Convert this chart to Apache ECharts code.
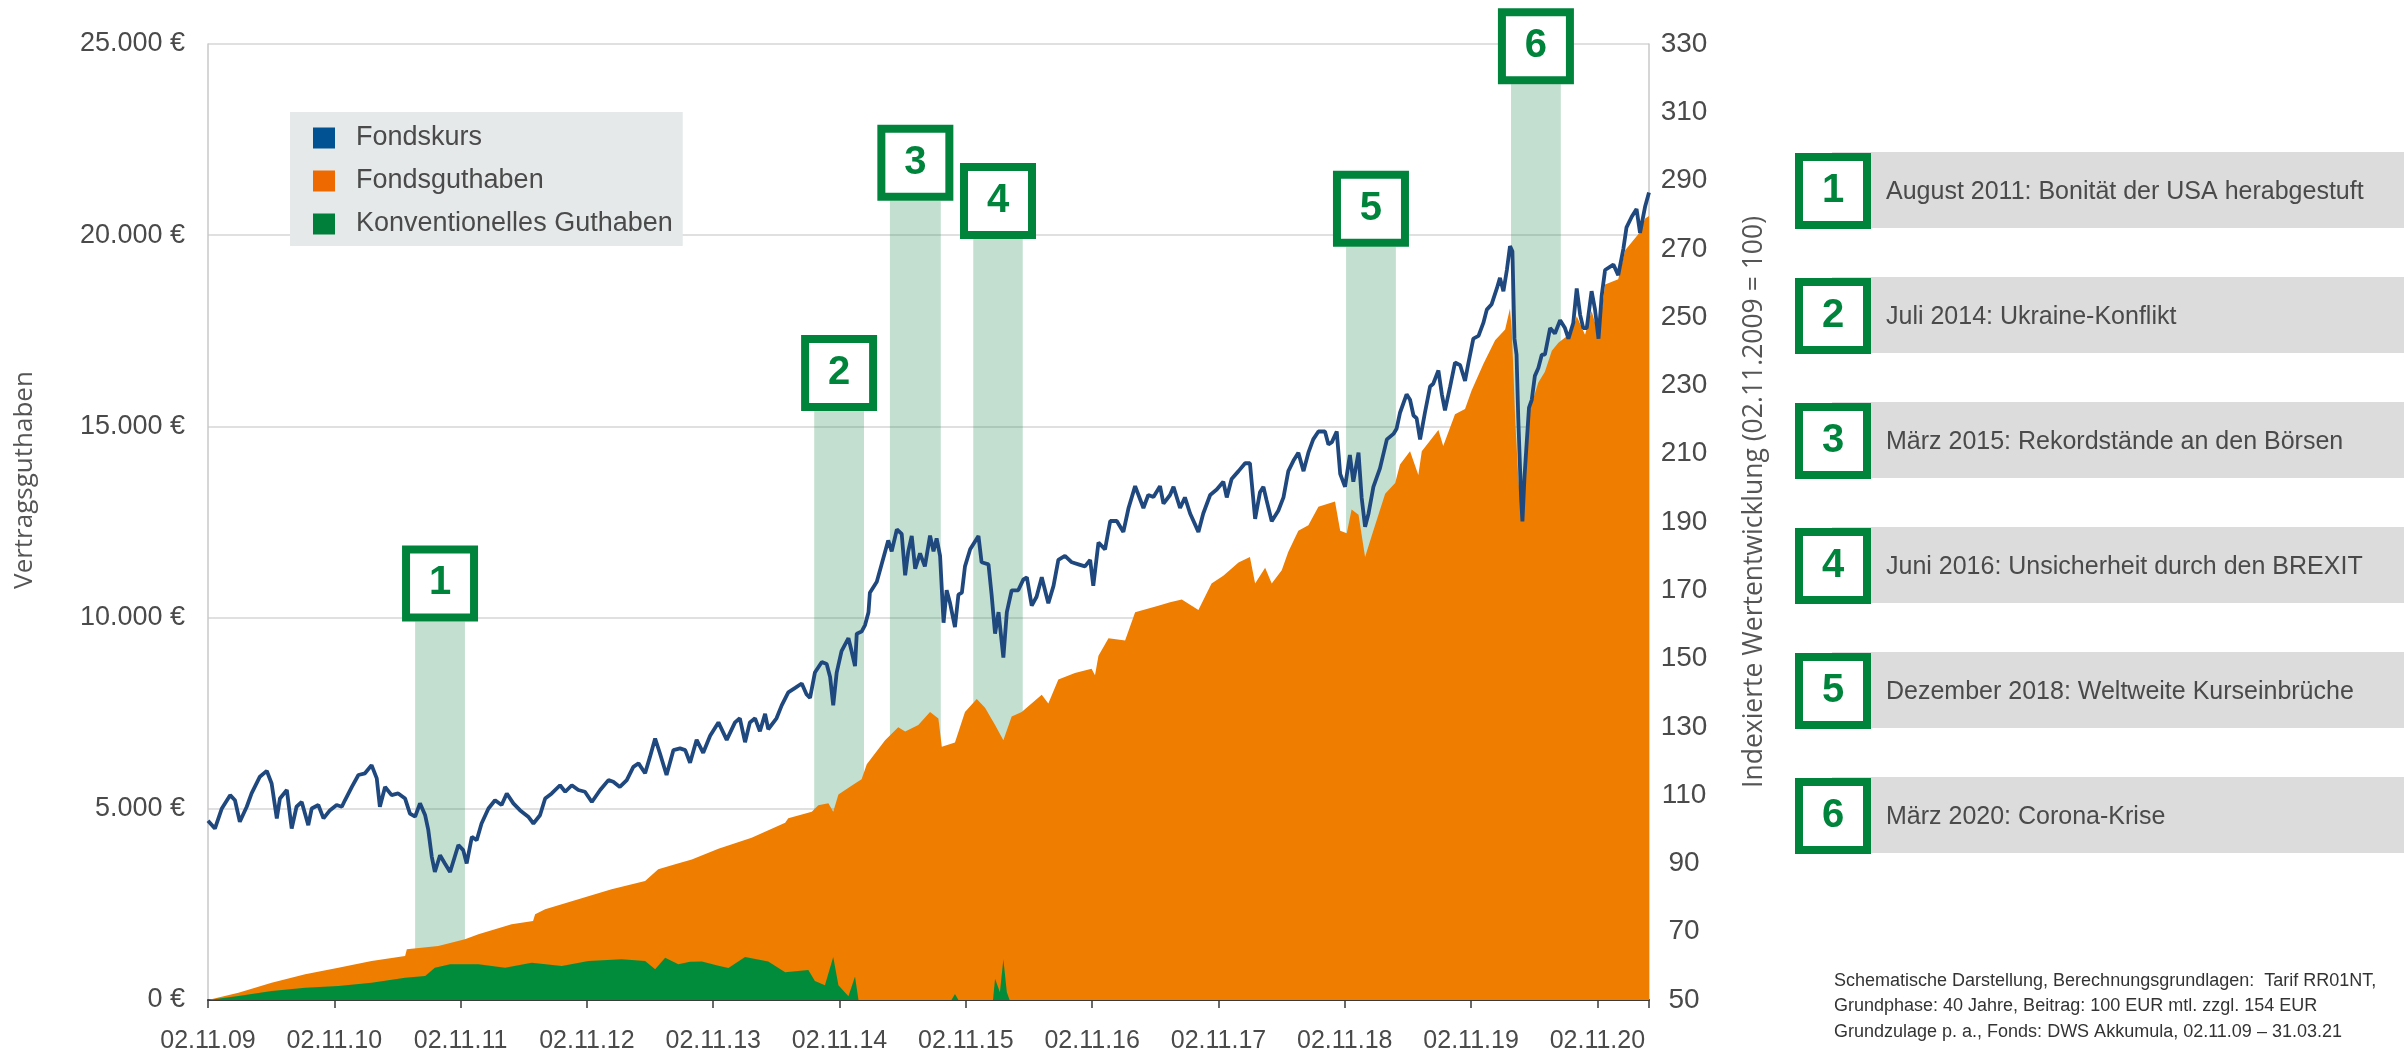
<!DOCTYPE html>
<html><head><meta charset="utf-8">
<script src="https://cdn.jsdelivr.net/npm/echarts@6/dist/echarts.min.js"></script>
<style>html,body{margin:0;padding:0;background:#fff}#c{width:2404px;height:1061px}</style>
</head><body><div id="c"></div>
<script>
// ---------- DATA (x = Tage seit 02.11.2009) ----------
const xTickLabels = ['02.11.09','02.11.10','02.11.11','02.11.12','02.11.13','02.11.14','02.11.15','02.11.16','02.11.17','02.11.18','02.11.19','02.11.20'];
const leftTickStep = 5000;
const rightTickStep = 20;

const kursTage = [0,20,40,64,78,92,112,126,150,170,184,199,208,228,242,256,271,290,300,319,334,353,372,387,396,416,435,454,473,488,497,512,531,550,570,584,599,613,628,637,647,656,671,685,700,724,738,748,763,777,791,811,830,849,864,883,902,926,941,960,975,994,1018,1033,1052,1071,1090,1110,1134,1158,1172,1191,1211,1230,1245,1264,1278,1293,1307,1326,1346,1365,1380,1394,1413,1432,1452,1476,1500,1524,1538,1553,1567,1582,1596,1611,1620,1644,1659,1678,1698,1717,1731,1741,1755,1775,1789,1799,1808,1818,1832,1852,1861,1871,1876,1890,1900,1910,1914,1934,1948,1967,1977,1992,2006,2016,2025,2035,2045,2059,2073,2088,2098,2107,2117,2127,2136,2146,2160,2170,2180,2189,2204,2228,2237,2257,2266,2276,2286,2300,2310,2324,2343,2358,2368,2382,2396,2411,2430,2445,2459,2478,2498,2517,2536,2551,2560,2575,2594,2609,2628,2647,2662,2681,2705,2719,2734,2753,2763,2782,2792,2811,2825,2840,2864,2878,2898,2917,2936,2946,2960,2980,2999,3013,3028,3042,3052,3061,3076,3095,3110,3124,3139,3153,3168,3182,3196,3211,3230,3240,3250,3264,3274,3288,3302,3312,3327,3336,3346,3356,3370,3389,3409,3428,3437,3447,3466,3476,3486,3495,3505,3519,3534,3543,3558,3568,3577,3592,3606,3621,3635,3645,3659,3674,3688,3698,3712,3727,3736,3746,3756,3765,3772,3778,3784,3789,3797,3801,3807,3813,3820,3828,3837,3847,3857,3866,3881,3895,3910,3924,3934,3948,3958,3968,3977,3987,4001,4011,4021,4030,4040,4064,4078,4093,4102,4117,4131,4141,4156,4167];
const kursIndex = [102.5,100.2,106.1,110.0,108.5,102.2,106.6,110.5,115.4,117.1,113.4,103.2,109.0,111.5,100.2,106.6,108.0,101.2,106.1,107.1,103.2,105.6,107.1,106.6,108.5,112.4,115.9,116.4,118.8,114.9,106.6,112.4,110.0,110.5,109.0,104.6,103.7,107.6,104.1,99.8,92.0,87.5,92.4,90.0,87.5,95.4,93.9,90.0,97.8,96.8,101.7,106.1,108.5,107.1,110.5,107.6,105.6,103.7,101.7,104.1,109.0,110.5,112.9,111.0,112.9,111.5,111.0,108.0,111.5,114.4,113.9,112.4,114.4,118.3,119.3,116.4,121.2,126.6,122.2,115.9,123.2,123.7,123.2,119.5,126.2,122.4,127.4,131.3,126.2,131.3,132.5,125.5,131.3,132.5,128.7,133.8,129.3,132.5,136.3,140.1,141.4,142.7,139.5,138.5,145.9,149.0,148.4,144.6,136.3,145.9,152.2,156.0,152.2,147.8,157.3,157.9,159.8,163.6,169.3,172.5,177.6,184.6,181.4,187.8,186.5,174.4,181.4,185.9,176.3,180.8,177.0,186.0,181.4,185.2,180.1,160.5,170.0,166.2,159.2,168.7,169.3,177.0,182.0,185.9,178.2,177.6,168.7,157.3,163.6,150.3,163.6,170.0,170.0,173.2,173.8,165.5,168.1,173.8,166.2,171.3,178.9,180.1,178.2,177.6,177.0,178.9,171.3,184.0,182.0,190.3,190.3,187.1,194.1,200.5,194.1,197.9,197.3,200.5,195.4,197.9,200.3,194.1,197.2,192.5,187.1,192.5,197.9,199.5,201.8,197.2,202.6,204.9,207.2,207.2,190.9,198.7,200.3,196.4,190.2,193.3,197.2,204.9,208.0,210.3,204.9,210.3,214.2,216.5,216.5,212.7,213.4,216.5,204.1,200.3,209.6,201.8,210.3,197.2,188.6,192.5,200.3,205.7,214.2,215.8,217.3,222.0,227.4,225.8,221.2,220.4,214.2,222.0,229.7,230.5,234.4,227.4,222.7,229.7,236.7,235.9,231.3,236.7,243.7,244.5,248.3,252.2,253.8,258.4,261.5,257.6,263.8,270.8,269.3,243.7,239.0,220.4,197.2,190.2,203.3,212.7,223.5,225.8,232.8,235.1,239.0,239.0,246.8,245.2,249.1,246.8,243.7,248.3,258.4,250.6,246.8,246.8,257.6,252.2,243.7,256.1,263.8,265.4,262.3,270.1,276.3,279.4,281.7,274.7,282.5,286.5];

const guthabenTage = [0,88,184,281,377,473,570,575,666,743,782,878,940,946,975,1071,1167,1264,1302,1351,1399,1476,1572,1669,1678,1746,1765,1794,1808,1823,1861,1890,1905,1958,1996,2016,2054,2088,2112,2122,2160,2189,2223,2247,2276,2300,2324,2353,2411,2430,2459,2507,2555,2565,2575,2604,2652,2681,2748,2782,2816,2864,2902,2936,2980,3013,3028,3057,3076,3105,3124,3153,3182,3211,3259,3274,3293,3307,3327,3346,3365,3404,3433,3447,3476,3500,3510,3558,3572,3606,3635,3654,3688,3722,3751,3765,3770,3775,3780,3789,3799,3809,3823,3847,3866,3886,3905,3944,3958,3982,4001,4021,4040,4078,4098,4136,4156,4167];
const guthabenWerte = [0,192,453,671,845,1020,1150,1330,1412,1587,1717,1979,2066,2240,2371,2633,2894,3112,3417,3548,3673,3957,4240,4637,4750,4921,5091,5147,4920,5374,5601,5771,6168,6792,7132,7019,7189,7529,7360,6622,6735,7529,7869,7642,7189,6792,7415,7529,7982,7756,8379,8549,8663,8493,9003,9457,9400,10137,10307,10400,10474,10197,10890,11097,11443,11582,10890,11305,10890,11235,11720,12273,12412,12896,13035,12273,12204,12827,12689,11582,12135,13242,13519,14004,14350,13727,14350,14903,14488,15318,15457,15941,16633,17256,17533,18086,17533,16426,15180,13657,12550,13934,15457,16149,16426,16979,17187,17464,17879,17394,18017,17394,18709,18848,19609,20024,20439,20500];

const konvTage = [0,88,184,281,377,473,570,628,656,700,782,859,936,1023,1100,1196,1264,1293,1322,1360,1394,1428,1476,1505,1553,1620,1669,1736,1755,1784,1808,1823,1852,1871,1881,2150,2160,2170,2270,2276,2290,2300,2310,2318,4167];
const konvWerte = [0,105,235,322,366,453,584,628,845,933,933,845,976,889,1020,1063,1020,802,1107,933,1000,1008,895,838,1122,1008,725,782,498,385,1122,385,101,612,0,0,158,0,0,555,200,1065,200,0,0];

const ereignisNr = ['1','2','3','4','5','6'];
const ereignisStart = [599,1753,1972,2213,3291,3768];
const ereignisEnde = [743,1897,2119,2356,3435,3912];
const ereignisOben = [9900,15400,20900,19900,19700,23950];
const ereignisText = ['August 2011: Bonität der USA herabgestuft','Juli 2014: Ukraine-Konflikt','März 2015: Rekordstände an den Börsen','Juni 2016: Unsicherheit durch den BREXIT','Dezember 2018: Weltweite Kurseinbrüche','März 2020: Corona-Krise'];
const fussnote = ['Schematische Darstellung, Berechnungsgrundlagen:  Tarif RR01NT,','Grundphase: 40 Jahre, Beitrag: 100 EUR mtl. zzgl. 154 EUR','Grundzulage p. a., Fonds: DWS Akkumula, 02.11.09 – 31.03.21'];

// ---------- STYLE ----------
const FN = '"Liberation Sans",Arial,sans-serif';
const FS = '"Open Sans","DejaVu Sans",sans-serif';
const GREEN = '#00843c';
const TXT = '#4a4a4a';

const zip = (a, b) => a.map((v, i) => [v, b[i]]);
const fmtEuro = v => String(v).replace(/\B(?=(\d{3})+(?!\d))/g, '.') + ' €';

const graphics = [];
ereignisText.forEach((t, i) => {
  const top = 153 + i * 125;
  graphics.push({type:'rect', shape:{x:1832, y:top-1, width:572, height:76}, style:{fill:'#dcdcdc'}});
  graphics.push({type:'rect', shape:{x:1799, y:top+4, width:68, height:68}, style:{fill:'#fff', stroke:GREEN, lineWidth:8}});
  graphics.push({type:'text', x:1833, y:top+38, style:{text:ereignisNr[i], font:'bold 40px '+FN, fill:GREEN, align:'center', verticalAlign:'middle'}});
  graphics.push({type:'text', x:1886, y:top+39, style:{text:t, font:'25px '+FN, fill:TXT, align:'left', verticalAlign:'middle'}});
});
fussnote.forEach((t, i) => {
  graphics.push({type:'text', x:1834, y:981 + i*25.5, style:{text:t, font:'18px '+FN, fill:'#333', align:'left', verticalAlign:'middle'}});
});
graphics.push({type:'text', x:25, y:480, rotation:Math.PI/2, style:{text:'Vertragsguthaben', font:'26px '+FS, fill:'#555', align:'center', verticalAlign:'middle'}});
graphics.push({type:'text', x:1754, y:502, rotation:Math.PI/2, style:{text:'Indexierte Wertentwicklung (02.11.2009 = 100)', font:'26.5px '+FS, fill:'#555', align:'center', verticalAlign:'middle'}});

const chart = echarts.init(document.getElementById('c'), null, {renderer:'canvas'});
chart.setOption({
  animation:false,
  backgroundColor:'#fff',
  grid:{left:208, right:755, top:44, bottom:61, containLabel:false},
  legend:{
    orient:'vertical', left:290, top:112, backgroundColor:'#e6e9ea', padding:[11,10,7,23],
    itemWidth:22, itemHeight:21, itemGap:13, icon:'rect', selectedMode:false,
    textStyle:{fontFamily:FN, fontSize:27, color:TXT, lineHeight:30, padding:[0,0,0,16]},
    data:[
      {name:'Fondskurs', itemStyle:{color:'#005293'}},
      {name:'Fondsguthaben', itemStyle:{color:'#ee6a00'}},
      {name:'Konventionelles Guthaben', itemStyle:{color:'#007f3a'}}
    ]
  },
  xAxis:{
    type:'value', min:0, max:4167, interval:365.25,
    axisLine:{show:true, onZero:false, lineStyle:{color:'#3a3a3a', width:2}},
    axisTick:{show:true, length:8, lineStyle:{color:'#3a3a3a', width:1.5}},
    splitLine:{show:false},
    axisLabel:{
      margin:29, fontFamily:FN, fontSize:25, color:TXT,
      formatter:v => { const i = Math.round(v/365.25); return Math.abs(v - i*365.25) < 0.5 ? (xTickLabels[i] || '') : ''; }
    }
  },
  yAxis:[
    {
      type:'value', min:0, max:5*leftTickStep, interval:leftTickStep, position:'left',
      axisLine:{show:true, lineStyle:{color:'#c8c8c8', width:1.5}},
      axisTick:{show:false},
      splitLine:{show:true, lineStyle:{color:'#d6d6d6', width:1.5}},
      axisLabel:{margin:23, fontFamily:FN, fontSize:27, color:TXT, padding:[0,0,10,0], formatter:fmtEuro}
    },
    {
      type:'value', min:50, max:330, interval:rightTickStep, position:'right',
      axisLine:{show:true, lineStyle:{color:'#c8c8c8', width:1.5}},
      axisTick:{show:false},
      splitLine:{show:false},
      axisLabel:{margin:35, align:'center', fontFamily:FN, fontSize:28, color:TXT, padding:[0,0,14,0]}
    }
  ],
  series:[
    {name:'Fondsguthaben', type:'line', yAxisIndex:0, data:zip(guthabenTage, guthabenWerte), symbol:'none',
     itemStyle:{color:'#ee6a00'}, lineStyle:{width:0}, areaStyle:{color:'#ee7d00', opacity:1}, z:2, silent:true},
    {name:'Konventionelles Guthaben', type:'line', yAxisIndex:0, data:zip(konvTage, konvWerte), symbol:'none',
     itemStyle:{color:'#007f3a'}, lineStyle:{width:0}, areaStyle:{color:'#008c3a', opacity:1}, z:3, silent:true},
    {name:'Fondskurs', type:'line', yAxisIndex:1, data:zip(kursTage, kursIndex), symbol:'none',
     itemStyle:{color:'#005293'}, lineStyle:{color:'#1f487e', width:3.8}, z:4, silent:true},
    {name:'Ereignisse', type:'line', yAxisIndex:0, data:[], z:5, silent:true,
     markArea:{silent:true, itemStyle:{color:'rgba(16,128,64,0.25)'},
       data:ereignisStart.map((s, i) => [{xAxis:s, yAxis:ereignisOben[i]}, {xAxis:ereignisEnde[i], yAxis:0}])}},
    {name:'Nummern', type:'line', yAxisIndex:0, data:[], z:6, silent:true,
     markPoint:{silent:true, symbol:'rect', symbolSize:[68,68], symbolOffset:[0,-38],
       itemStyle:{color:'#fff', borderColor:GREEN, borderWidth:8},
       label:{show:true, position:'inside', fontFamily:FN, fontWeight:'bold', fontSize:40, color:GREEN, formatter:p => p.name},
       data:ereignisStart.map((s, i) => ({name:ereignisNr[i], coord:[(s + ereignisEnde[i]) / 2, ereignisOben[i]]}))}}
  ],
  graphic:graphics
});
</script></body></html>
